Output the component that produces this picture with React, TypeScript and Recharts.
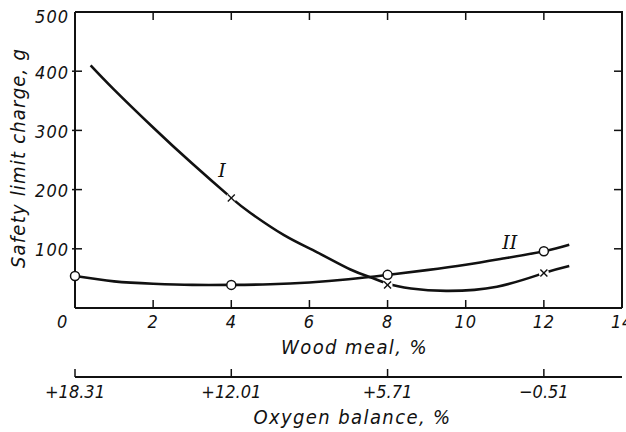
import React from 'react';
import * as Recharts from 'recharts';
import { ComposedChart, Line, Scatter, XAxis, YAxis } from 'recharts';

const RC: any = Recharts;

const FONT = '"DejaVu Sans Condensed", "Liberation Sans Narrow", "DejaVu Sans", sans-serif';
const SERIF = '"DejaVu Serif", "Liberation Serif", serif';
const INK = '#111';

// Wood meal (%) ticks
const woodTicks = [0, 2, 4, 6, 8, 10, 12, 14];
// Safety limit charge (g) ticks
const chargeTicks = [0, 100, 200, 300, 400, 500];
// Oxygen balance secondary scale
const oxygenTicks = [0, 4, 8, 12];
const oxygenLabels = ['+18.31', '+12.01', '+5.71', '\u22120.51'];

// Curve I (crosses)
const curveI = [
  { x: 0.4, y: 410 }, { x: 1.0, y: 369 }, { x: 2.0, y: 305 }, { x: 3.0, y: 244 },
  { x: 4.0, y: 186 }, { x: 4.5, y: 160 }, { x: 5.35, y: 123 }, { x: 6.2, y: 94 },
  { x: 7.05, y: 65 }, { x: 7.6, y: 51 }, { x: 8.0, y: 41 }, { x: 8.6, y: 33 },
  { x: 9.5, y: 29 }, { x: 10.8, y: 36 }, { x: 12.0, y: 59 }, { x: 12.65, y: 71 },
];
// Curve II (circles)
const curveII = [
  { x: 0, y: 54 }, { x: 1, y: 45 }, { x: 2, y: 41 }, { x: 3, y: 39 }, { x: 4, y: 39 },
  { x: 5, y: 40 }, { x: 6, y: 43 }, { x: 7, y: 48.5 }, { x: 8, y: 56 }, { x: 9, y: 64 },
  { x: 10, y: 73 }, { x: 11, y: 84 }, { x: 12, y: 96 }, { x: 12.65, y: 107 },
];
const markersI = [{ x: 4, y: 186 }, { x: 8, y: 39 }, { x: 12, y: 59 }];
const markersII = [{ x: 0, y: 54 }, { x: 4, y: 39 }, { x: 8, y: 56 }, { x: 12, y: 96 }];
const curveLabels = [{ x: 3.76, y: 233, name: 'I' }, { x: 11.13, y: 110, name: 'II' }];

const X0 = woodTicks[0];
const X1 = woodTicks[woodTicks.length - 1];
const Y0 = chargeTicks[0];
const Y1 = chargeTicks[chargeTicks.length - 1];
const innerX = woodTicks.slice(1, -1);
const innerY = chargeTicks.slice(1, -1);

// layout
const CHART_W = 626;
const CHART_H = 432;
const MARGIN = { top: 12, right: 4, bottom: 0, left: 0 };
const Y_AXIS_W = 75;
const WOOD_AXIS_H = 69;
const OXY_AXIS_H = 55;

const txt = { fontFamily: FONT, fontStyle: 'italic' as const, fill: INK };

const XTick = (p: any) => {
  const { x, y, payload } = p;
  const v = payload.value;
  const first = v === X0;
  return (
    <text x={first ? x - 7 : x} y={y + 20} textAnchor={first ? 'end' : 'middle'} fontSize={18} letterSpacing={0.8} {...txt}>{v}</text>
  );
};

const OTick = (p: any) => {
  const { x, y, payload } = p;
  const i = oxygenTicks.indexOf(payload.value);
  return (
    <text x={x} y={y + 21} textAnchor="middle" fontSize={18} {...txt}>{oxygenLabels[i]}</text>
  );
};

const YTick = (p: any) => {
  const { x, y, payload } = p;
  const v = payload.value;
  if (v === Y0) return <g />;
  const top = v === Y1;
  return (
    <text x={x - 6} y={top ? y + 11 : y + 7.5} textAnchor="end" fontSize={18} letterSpacing={1} {...txt}>{v}</text>
  );
};

const CrossShape = (p: any) => {
  const { cx, cy } = p;
  const d = 3.5;
  return (
    <g>
      <circle cx={cx} cy={cy} r={5} fill="#fff" />
      <line x1={cx - d} y1={cy - d} x2={cx + d} y2={cy + d} stroke={INK} strokeWidth={1.4} />
      <line x1={cx - d} y1={cy + d} x2={cx + d} y2={cy - d} stroke={INK} strokeWidth={1.4} />
    </g>
  );
};

const CircleShape = (p: any) => (
  <circle cx={p.cx} cy={p.cy} r={4.5} fill="#fff" stroke={INK} strokeWidth={1.5} />
);

const LabelShape = (p: any) => (
  <text x={p.cx} y={p.cy + 6.5} textAnchor="middle" fontFamily={SERIF} fontStyle="italic" fontSize={19} fill={INK}>
    {p.payload.name}
  </text>
);

const WoodTitle = (lp: any) => {
  const vb = lp.viewBox;
  return (
    <text x={vb.x + vb.width / 2 + 6} y={vb.y + 46} textAnchor="middle" fontSize={20} letterSpacing={1.4} {...txt}>
      Wood meal, %
    </text>
  );
};

const OxygenTitle = (lp: any) => {
  const vb = lp.viewBox;
  return (
    <text x={vb.x + vb.width / 2 + 4} y={vb.y + 47} textAnchor="middle" fontSize={20} letterSpacing={1.4} {...txt}>
      Oxygen balance, %
    </text>
  );
};

const ChargeTitle = (lp: any) => {
  const vb = lp.viewBox;
  const cx = vb.x + 25;
  const cy = vb.y + vb.height / 2 - 2;
  return (
    <text x={cx} y={cy} transform={`rotate(-90 ${cx} ${cy})`} textAnchor="middle" fontSize={20} letterSpacing={1.2} {...txt}>
      Safety limit charge, g
    </text>
  );
};

// Closed frame with inward ticks on all four sides, plus ticks of the oxygen scale
const usePlotAreaHook: any = typeof RC.usePlotArea === 'function' ? RC.usePlotArea : () => undefined;

function FrameOverlay() {
  const area: any = usePlotAreaHook();
  const left = area?.x ?? MARGIN.left + Y_AXIS_W;
  const top = area?.y ?? MARGIN.top;
  const width = area?.width ?? CHART_W - MARGIN.left - MARGIN.right - Y_AXIS_W;
  const height = area?.height ?? CHART_H - MARGIN.top - MARGIN.bottom - WOOD_AXIS_H - OXY_AXIS_H;
  const right = left + width;
  const bottom = top + height;
  const sx = (v: number) => left + ((v - X0) / (X1 - X0)) * width;
  const sy = (v: number) => bottom - ((v - Y0) / (Y1 - Y0)) * height;
  const oxyY = bottom + WOOD_AXIS_H;
  const st = { stroke: INK, strokeWidth: 1.5, fill: 'none' };
  return (
    <g className="frame-overlay">
      <path d={`M${left},${top}H${right}V${bottom}`} stroke={INK} strokeWidth={2} fill="none" />
      {innerX.map((v) => <path key={`b${v}`} d={`M${sx(v)},${bottom}v-8`} {...st} />)}
      {innerX.map((v) => <path key={`t${v}`} d={`M${sx(v)},${top}v8`} {...st} />)}
      {innerY.map((v) => <path key={`l${v}`} d={`M${left - 3},${sy(v)}h10`} {...st} />)}
      {innerY.map((v) => <path key={`r${v}`} d={`M${right},${sy(v)}h-8`} {...st} />)}
      {oxygenTicks.map((v) => <path key={`o${v}`} d={`M${sx(v)},${oxyY}v-8`} {...st} />)}
    </g>
  );
}

const axisLine = { stroke: INK, strokeWidth: 2 };
const Cust: any = RC.Customized;

export default function App() {
  return (
    <div style={{ position: 'absolute', left: 0, top: 0, background: '#fff' }}>
      <ComposedChart width={CHART_W} height={CHART_H} margin={MARGIN}>
        <XAxis
          xAxisId={0} type="number" dataKey="x" domain={[X0, X1]} ticks={woodTicks} interval={0}
          height={WOOD_AXIS_H} axisLine={axisLine} tickLine={false} tickSize={0} tickMargin={0}
          tick={XTick} label={WoodTitle}
        />
        <XAxis
          xAxisId={1} type="number" dataKey="x" domain={[X0, X1]} ticks={oxygenTicks} interval={0}
          height={OXY_AXIS_H} axisLine={axisLine} tickLine={false} tickSize={0} tickMargin={0}
          tick={OTick} label={OxygenTitle}
        />
        <YAxis
          yAxisId={0} type="number" domain={[Y0, Y1]} ticks={chargeTicks} interval={0}
          width={Y_AXIS_W} axisLine={axisLine} tickLine={false} tickSize={0} tickMargin={0}
          tick={YTick} label={ChargeTitle}
        />
        <Line
          xAxisId={0} yAxisId={0} data={curveI} dataKey="y" type="natural"
          stroke={INK} strokeWidth={2.6} dot={false} activeDot={false} isAnimationActive={false}
        />
        <Line
          xAxisId={0} yAxisId={0} data={curveII} dataKey="y" type="natural"
          stroke={INK} strokeWidth={2.6} dot={false} activeDot={false} isAnimationActive={false}
        />
        <Line xAxisId={1} yAxisId={0} data={markersII} dataKey="y" stroke="none" dot={false} activeDot={false} isAnimationActive={false} />
        <Scatter xAxisId={0} yAxisId={0} data={markersI} dataKey="y" shape={CrossShape} isAnimationActive={false} />
        <Scatter xAxisId={0} yAxisId={0} data={markersII} dataKey="y" shape={CircleShape} isAnimationActive={false} />
        <Scatter xAxisId={0} yAxisId={0} data={curveLabels} dataKey="y" shape={LabelShape} isAnimationActive={false} />
        {Cust ? <Cust component={FrameOverlay} /> : <FrameOverlay />}
      </ComposedChart>
    </div>
  );
}
